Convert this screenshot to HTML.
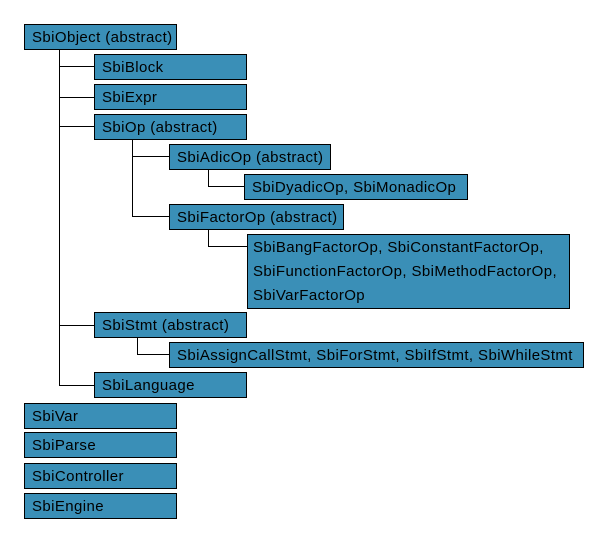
<!DOCTYPE html>
<html><head><style>
body{margin:0;width:608px;height:543px;background:#fff;position:relative;overflow:hidden;font-family:"Liberation Sans",sans-serif;}
.b{position:absolute;box-sizing:border-box;background:#3a8fb7;border:1px solid #000;font-size:15px;letter-spacing:0.4px;color:#000;padding-left:7px;padding-top:1px;line-height:24px;white-space:nowrap;}
.l{position:absolute;background:#000;}
</style></head><body>
<div class="l" style="left:59px;top:49px;width:1px;height:337px"></div>
<div class="l" style="left:59px;top:66px;width:35px;height:1px"></div>
<div class="l" style="left:59px;top:97px;width:35px;height:1px"></div>
<div class="l" style="left:59px;top:126px;width:35px;height:1px"></div>
<div class="l" style="left:59px;top:325px;width:35px;height:1px"></div>
<div class="l" style="left:59px;top:385px;width:35px;height:1px"></div>
<div class="l" style="left:132px;top:139px;width:1px;height:78px"></div>
<div class="l" style="left:132px;top:156px;width:37px;height:1px"></div>
<div class="l" style="left:132px;top:216px;width:37px;height:1px"></div>
<div class="l" style="left:208px;top:169px;width:1px;height:18px"></div>
<div class="l" style="left:208px;top:186px;width:36px;height:1px"></div>
<div class="l" style="left:208px;top:229px;width:1px;height:18px"></div>
<div class="l" style="left:208px;top:246px;width:39px;height:1px"></div>
<div class="l" style="left:137px;top:337px;width:1px;height:18px"></div>
<div class="l" style="left:137px;top:354px;width:32px;height:1px"></div>

<div class="b" style="left:24px;top:24px;width:153px;height:26px">SbiObject (abstract)</div>
<div class="b" style="left:94px;top:54px;width:153px;height:26px">SbiBlock</div>
<div class="b" style="left:94px;top:84px;width:153px;height:26px">SbiExpr</div>
<div class="b" style="left:94px;top:114px;width:153px;height:26px">SbiOp (abstract)</div>
<div class="b" style="left:169px;top:144px;width:162px;height:26px">SbiAdicOp (abstract)</div>
<div class="b" style="left:244px;top:174px;width:224px;height:26px">SbiDyadicOp, SbiMonadicOp</div>
<div class="b" style="left:169px;top:204px;width:175px;height:26px">SbiFactorOp (abstract)</div>
<div class="b" style="left:247px;top:234px;width:323px;height:75px;padding-left:5px">SbiBangFactorOp, SbiConstantFactorOp,<br>SbiFunctionFactorOp, SbiMethodFactorOp,<br>SbiVarFactorOp</div>
<div class="b" style="left:94px;top:312px;width:153px;height:26px">SbiStmt (abstract)</div>
<div class="b" style="left:169px;top:342px;width:415px;height:26px">SbiAssignCallStmt, SbiForStmt, SbiIfStmt, SbiWhileStmt</div>
<div class="b" style="left:94px;top:372px;width:153px;height:26px">SbiLanguage</div>
<div class="b" style="left:24px;top:403px;width:153px;height:26px">SbiVar</div>
<div class="b" style="left:24px;top:432px;width:153px;height:26px">SbiParse</div>
<div class="b" style="left:24px;top:463px;width:153px;height:26px">SbiController</div>
<div class="b" style="left:24px;top:493px;width:153px;height:26px">SbiEngine</div>
</body></html>
